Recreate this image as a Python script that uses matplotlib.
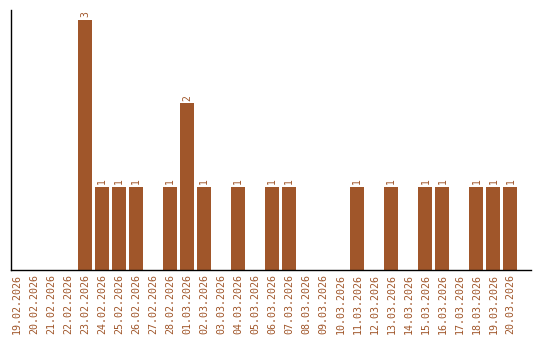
import matplotlib
matplotlib.use("Agg")
import matplotlib.pyplot as plt
import numpy as np

dates = ["19.02.2026", "20.02.2026", "21.02.2026", "22.02.2026", "23.02.2026",
         "24.02.2026", "25.02.2026", "26.02.2026", "27.02.2026", "28.02.2026",
         "01.03.2026", "02.03.2026", "03.03.2026", "04.03.2026", "05.03.2026",
         "06.03.2026", "07.03.2026", "08.03.2026", "09.03.2026", "10.03.2026",
         "11.03.2026", "12.03.2026", "13.03.2026", "14.03.2026", "15.03.2026",
         "16.03.2026", "17.03.2026", "18.03.2026", "19.03.2026", "20.03.2026"]
counts = [0, 0, 0, 0, 3, 1, 1, 1, 0, 1, 2, 1, 0, 1, 0,
          1, 1, 0, 0, 0, 1, 0, 1, 0, 1, 1, 0, 1, 1, 1]

brown = "#a0562a"

fig = plt.figure(figsize=(5.4, 3.4), dpi=100)
ax = fig.add_axes([0.0195, 0.206, 0.963, 0.765])

x = np.arange(len(dates))
ax.bar(x, counts, width=0.82, color=brown)

# value labels over the bars
for xi, c in zip(x, counts):
    if c > 0:
        ax.text(xi, c + 0.03, str(c), rotation=90, ha="center", va="bottom",
                fontsize=7, color=brown, family="DejaVu Sans Mono")

ax.set_xlim(-0.38, 30.18)
ax.set_ylim(0, 3.12)
ax.set_xticks(x)
ax.set_xticklabels(dates, rotation=90, fontsize=7.2, color=brown,
                   family="DejaVu Sans Mono")
ax.tick_params(axis="x", length=0, pad=3)
ax.set_yticks([])
ax.spines["top"].set_visible(False)
ax.spines["right"].set_visible(False)
ax.spines["left"].set_linewidth(1)
ax.spines["bottom"].set_linewidth(1)

fig.savefig("out.png", dpi=100)
